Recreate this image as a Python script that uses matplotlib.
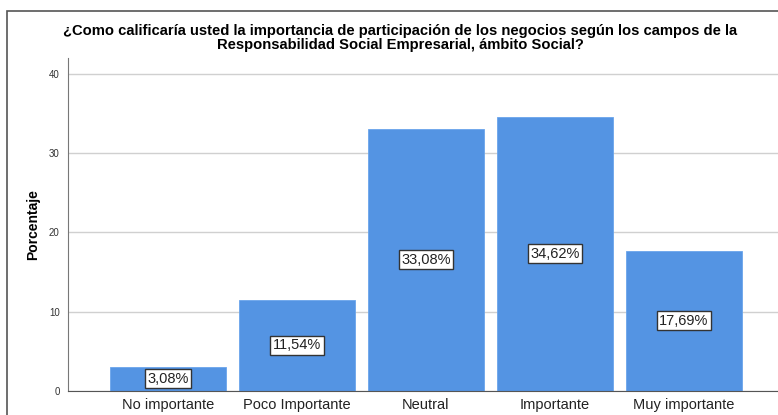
import matplotlib.pyplot as plt
from matplotlib.patches import Rectangle

categories = ['No importante', 'Poco Importante', 'Neutral', 'Importante', 'Muy importante']
values = [3.08, 11.54, 33.08, 34.62, 17.69]
labels = ['3,08%', '11,54%', '33,08%', '34,62%', '17,69%']
yticks = [0, 10, 20, 30, 40]

plt.rcParams['font.family'] = ['Liberation Sans', 'DejaVu Sans']

W, H = 778, 415
fig = plt.figure(figsize=(W / 100, H / 100), dpi=100)

# outer frame of the SPSS output
fig.patches.append(Rectangle((7 / W, -0.1), 1.2, (H - 11) / H + 0.1, transform=fig.transFigure,
                             fill=False, edgecolor='#555555', linewidth=1.2))

ax = fig.add_axes([68 / W, 24 / H, 716 / W, 333 / H])
x = range(len(categories))
ax.bar(x, values, width=0.9, color='#5494E3', edgecolor='#6AA5EC', linewidth=0.6, zorder=2)
ax.set_xlim(-0.775, 4.775)
ax.set_ylim(0, 42)
ax.set_yticks(yticks)
ax.set_yticklabels([str(t) for t in yticks], fontsize=7, color='#333333')
ax.set_xticks(list(x))
ax.set_xticklabels(categories, fontsize=10.5, color='#222222')
ax.tick_params(axis='both', length=0)
ax.tick_params(axis='y', pad=6)
ax.tick_params(axis='x', pad=5)
ax.yaxis.grid(True, color='#D0D0D0', linewidth=1, zorder=0)
ax.set_axisbelow(True)
for s in ['top', 'right']:
    ax.spines[s].set_visible(False)
ax.spines['left'].set_color('#777777')
ax.spines['bottom'].set_color('#555555')

for i, (v, lab) in enumerate(zip(values, labels)):
    ax.text(i, v / 2, lab, ha='center', va='center', fontsize=10.5, color='#222222', zorder=3,
            bbox=dict(boxstyle='square,pad=0.18', facecolor='white', edgecolor='#333333', linewidth=1))

ax.set_ylabel('Porcentaje', fontsize=10, fontweight='bold', labelpad=6)

fig.text(400 / W, 1 - 38 / H,
         '¿Como calificaría usted la importancia de participación de los negocios según los campos de la\n'
         'Responsabilidad Social Empresarial, ámbito Social?',
         ha='center', va='center', fontsize=10.6, fontweight='bold', linespacing=1.0)

fig.savefig('out.png', dpi=100)
